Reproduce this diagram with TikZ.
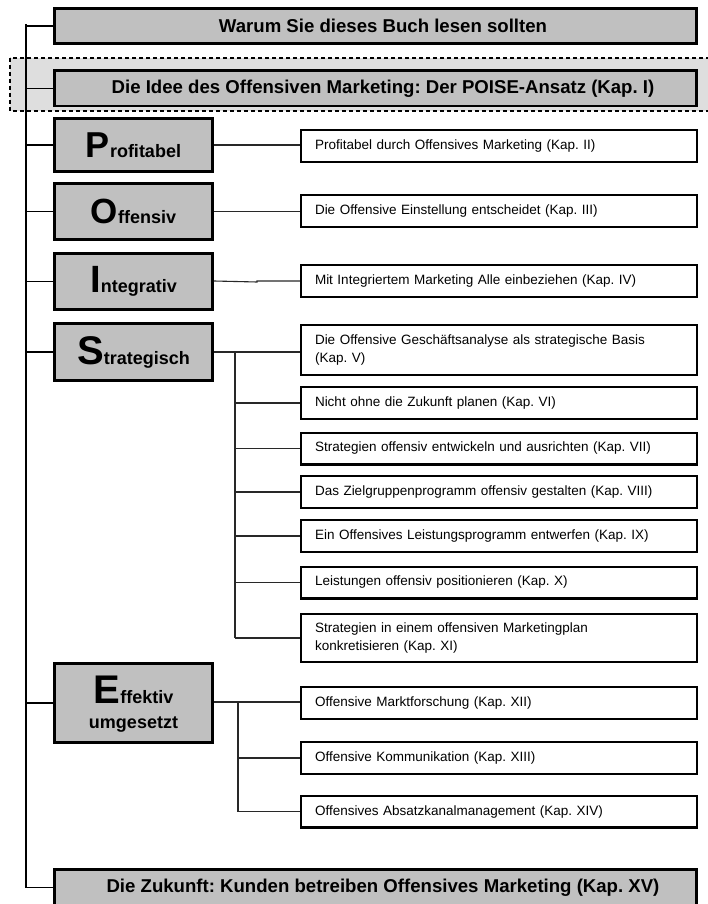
\documentclass[tikz,border=0pt]{standalone}
\usepackage{fontspec}
\setmainfont{Liberation Sans}
\frenchspacing
\definecolor{boxgrey}{RGB}{192,192,192}
\definecolor{bandgrey}{RGB}{222,222,222}
\definecolor{linkgrey}{RGB}{40,40,40}
\newcommand\bigletter[2][36]{{\fontsize{#1}{#1}\selectfont #2}}
\begin{document}
\begin{tikzpicture}[x=1pt,y=-1pt,
  greybox/.style={draw=black, line width=2.6pt, fill=boxgrey, minimum width=642.4pt,
    minimum height=35.4pt, inner sep=0pt, font=\fontsize{18.6}{21}\bfseries\selectfont,
    execute at begin node=\hspace*{15pt}},
  letterbox/.style={draw=black, line width=2.6pt, fill=boxgrey, minimum width=158.4pt,
    inner sep=0pt, align=center, font=\fontsize{18}{25}\bfseries\selectfont},
  chapbox/.style={draw=black, line width=2.4pt, fill=white, text width=368pt,
    inner xsep=14pt, inner ysep=0pt, minimum height=31.6pt, align=left,
    font=\fontsize{13.5}{17.5}\selectfont},
  link/.style={draw=linkgrey, line width=1.1pt},
  trunk/.style={draw=black, line width=1.2pt}]
\useasboundingbox (0,0) rectangle (707,904);

% highlighted band behind the introduction chapter
\path[fill=bandgrey, draw=black, line width=1.2pt, dash pattern=on 4pt off 3pt]
  (10,58) rectangle (720,111);

% main parts
\node[greybox] (warum) at (375.5,26) {Warum Sie dieses Buch lesen sollten};
\node[greybox] (idee) at (375.5,88.5) {Die Idee des Offensiven Marketing: Der POISE-Ansatz (Kap. I)};
\node[letterbox, minimum height=53.4pt] (P) at (133.5,145) {\bigletter{P}rofitabel};
\node[letterbox, minimum height=56.4pt] (O) at (133.5,211.5) {\bigletter[35]{O}ffensiv};
\node[letterbox, minimum height=56.4pt] (I) at (133.5,281.5) {\bigletter[38]{I}ntegrativ};
\node[letterbox, minimum height=57.4pt] (S) at (133.5,352) {\bigletter[40]{S}trategisch};
\node[letterbox, minimum height=79.4pt, text depth=2pt] (E) at (133.5,703) {\bigletter[40]{E}ffektiv\\umgesetzt};
\node[greybox, minimum height=36.4pt] (Z) at (375.5,887.5) {Die Zukunft: Kunden betreiben Offensives Marketing (Kap. XV)};

% chapters
\node[chapbox] (c2) at (499,146) {Profitabel durch Offensives Marketing (Kap. II)};
\node[chapbox] (c3) at (499,211) {Die Offensive Einstellung entscheidet (Kap. III)};
\node[chapbox] (c4) at (499,281) {Mit Integriertem Marketing Alle einbeziehen (Kap. IV)};
\node[chapbox, minimum height=49.6pt] (c5) at (499,350) {Die Offensive Geschäftsanalyse als strategische Basis\\(Kap. V)};
\node[chapbox] (c6) at (499,403) {Nicht ohne die Zukunft planen (Kap. VI)};
\node[chapbox] (c7) at (499,448.5) {Strategien offensiv entwickeln und ausrichten (Kap. VII)};
\node[chapbox] (c8) at (499,492) {Das Zielgruppenprogramm offensiv gestalten (Kap. VIII)};
\node[chapbox] (c9) at (499,536) {Ein Offensives Leistungsprogramm entwerfen (Kap. IX)};
\node[chapbox] (c10) at (499,582.5) {Leistungen offensiv positionieren (Kap. X)};
\node[chapbox, minimum height=47.6pt] (c11) at (499,638) {Strategien in einem offensiven Marketingplan\\konkretisieren (Kap. XI)};
\node[chapbox] (c12) at (499,703) {Offensive Marktforschung (Kap. XII)};
\node[chapbox] (c13) at (499,758) {Offensive Kommunikation (Kap. XIII)};
\node[chapbox] (c14) at (499,811.5) {Offensives Absatzkanalmanagement (Kap. XIV)};

% main trunk on the left
\coordinate (tTop) at (26,24);
\coordinate (tBot) at (26,888);
\draw[trunk] (tTop) -- (tBot);
\foreach \b in {warum,idee,P,O,I,S,E,Z}
  \draw[trunk] (tTop |- \b.west) -- (\b.west);

% single chapters
\draw[link] (P.east) -- (P.east -| c2.west);
\draw[link] (O.east) -- (O.east -| c3.west);
\coordinate (iStep) at (257,282);
\draw[link] ([yshift=0.5pt]I.east) -- (iStep) |- (c4.west);

% strategic chapters
\coordinate (sTop) at (235,352);
\coordinate (sBot) at (235,638);
\draw[link] (S.east) -- (S.east -| c5.west);
\draw[link] (sTop) -- (sBot);
\foreach \c in {c6,c7,c8,c9,c10,c11}
  \draw[link] (sTop |- \c.west) -- (\c.west);

% implementation chapters
\coordinate (eTop) at (238,702);
\coordinate (eBot) at (238,812);
\draw[link] (E.east |- eTop) -- (eTop -| c12.west);
\draw[link] (eTop) -- (eBot);
\foreach \c in {c13,c14}
  \draw[link] (eTop |- \c.west) -- (\c.west);
\end{tikzpicture}
\end{document}
